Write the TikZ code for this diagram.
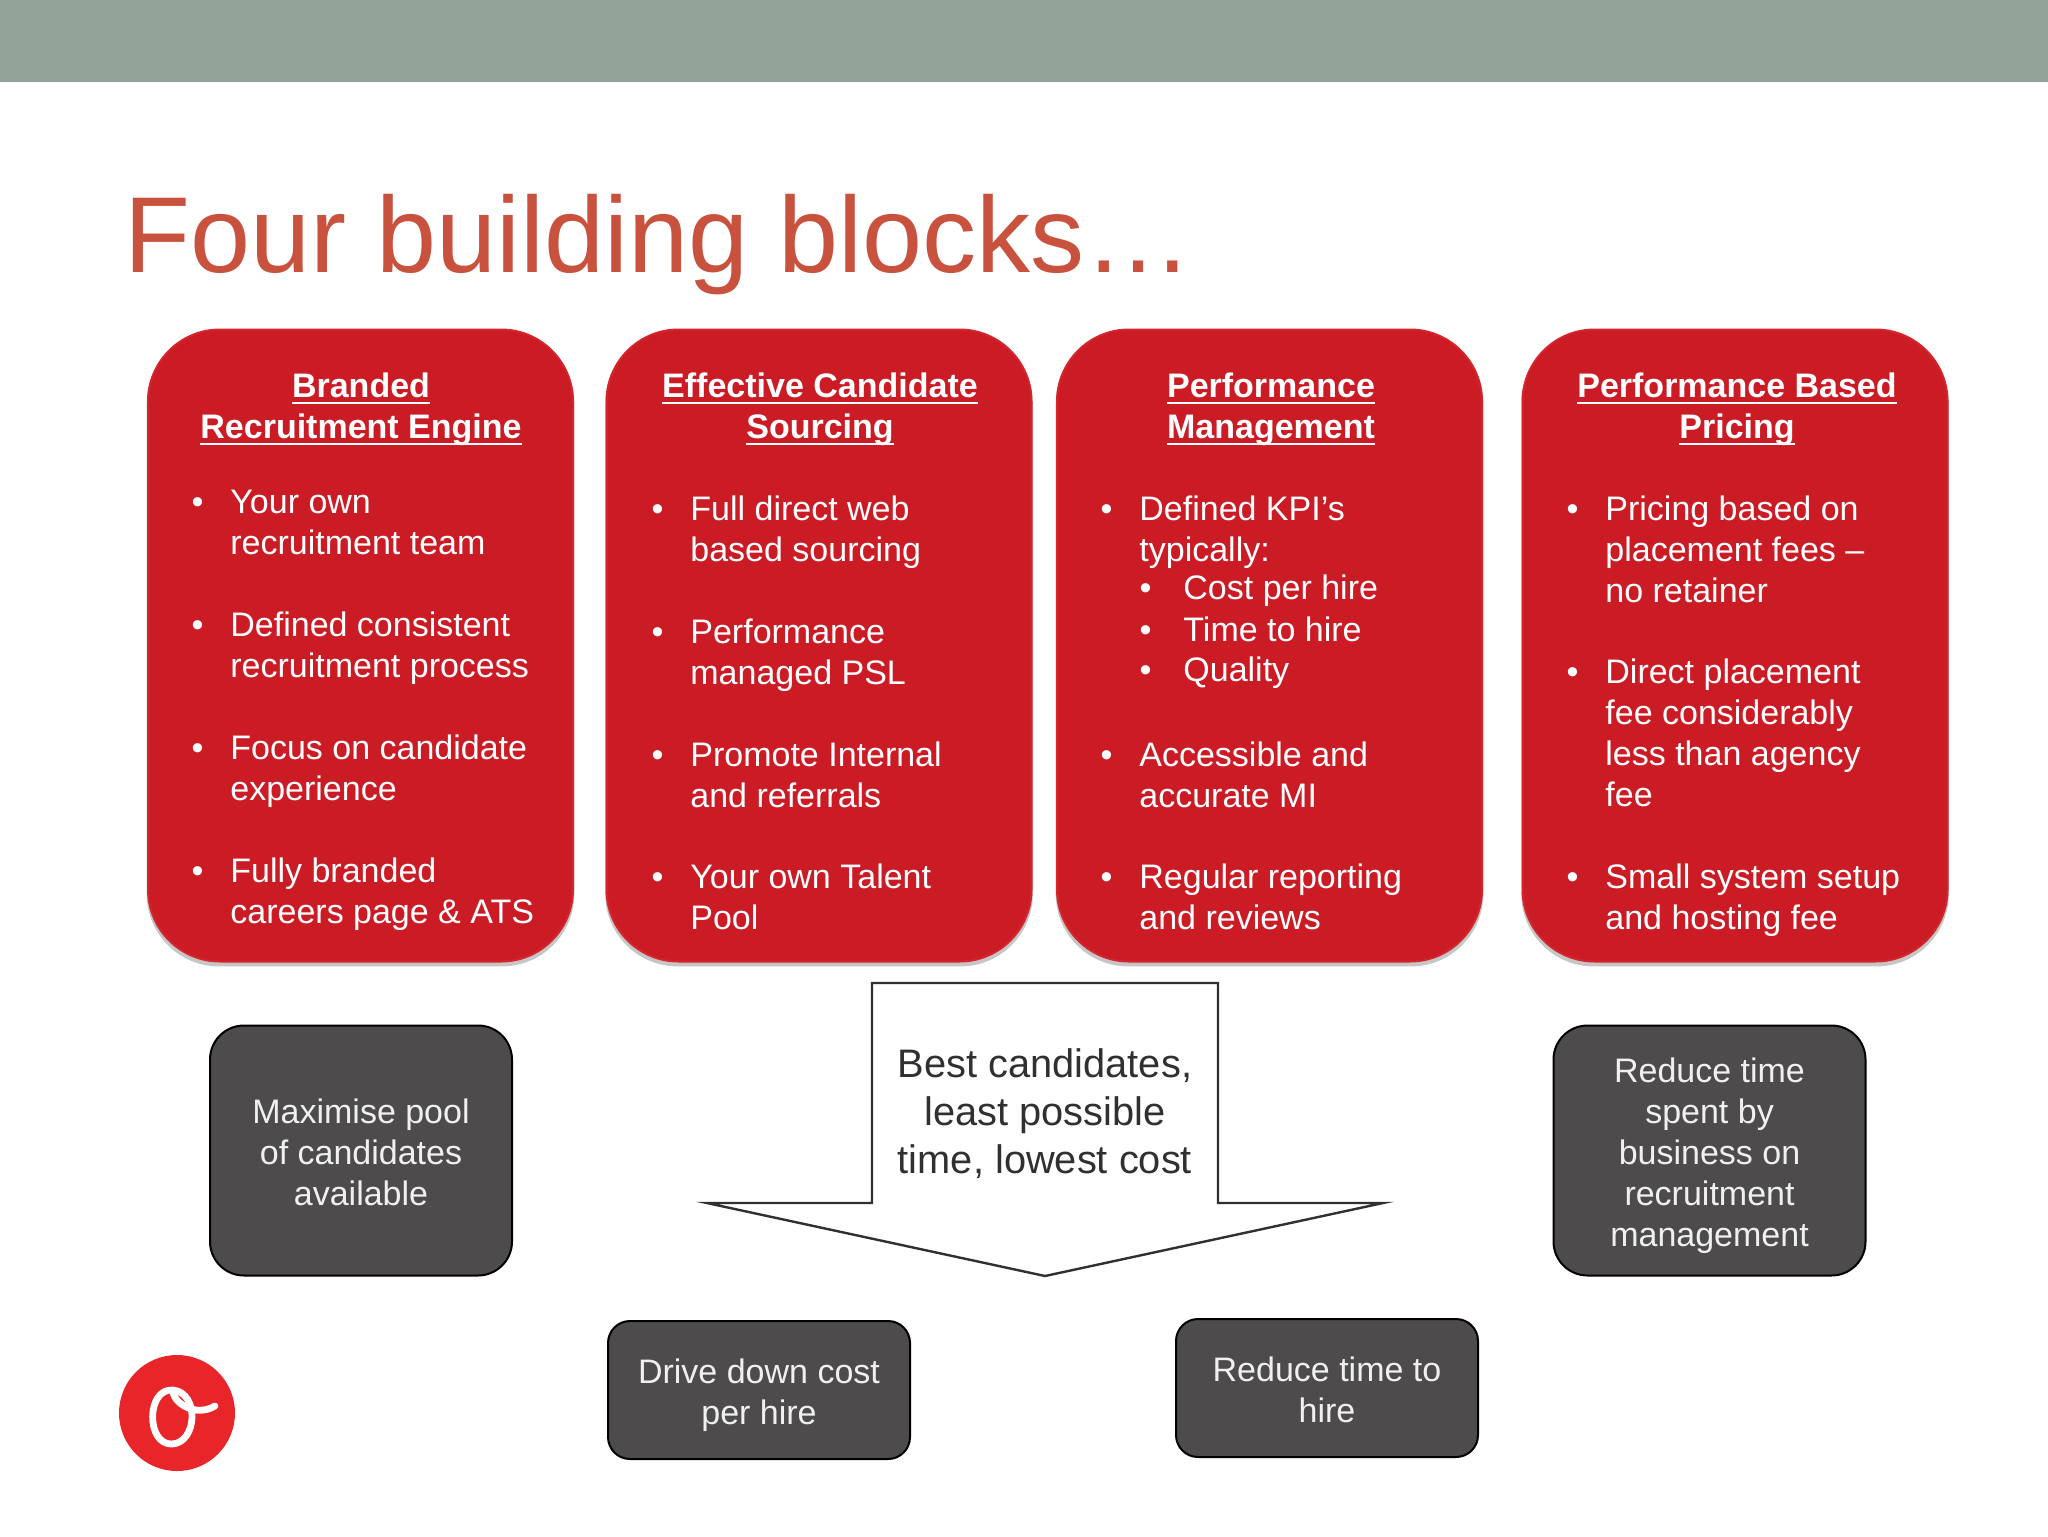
\documentclass[tikz,border=0pt]{standalone}
\usepackage{fontspec}
\setmainfont{Liberation Sans}
\usetikzlibrary{shadows}
\definecolor{bandgrey}{HTML}{92A399}
\definecolor{titlered}{HTML}{C9523F}
\definecolor{blockred}{HTML}{CB1C26}
\definecolor{blockrim}{HTML}{D4242C}
\definecolor{slategrey}{HTML}{4D4B4C}
\definecolor{inkgrey}{HTML}{303030}
\definecolor{logored}{HTML}{E8262A}
\newcommand{\linetop}{\rule{0pt}{18pt}}
\newcommand{\headline}[1]{\setbox0\hbox{#1}\rlap{\rule[-3.2pt]{\wd0}{1.2pt}}\box0}
\newcommand{\blockdot}{\linetop\llap{\textbullet\hspace{13.5pt}}}
\newcommand{\subdot}{\linetop\llap{\textbullet\hspace{16pt}}}
\tikzset{
  struts/.style={execute at end node=\rule[-4pt]{0pt}{4pt}},
  blockbox/.style={draw=blockrim, line width=1pt, fill=blockred, rounded corners=36pt,
    minimum width=212.5pt, minimum height=316pt, inner sep=0pt,
    drop shadow={shadow xshift=0pt, shadow yshift=-1.5pt, shadow scale=1.006, opacity=.45}},
  blockhead/.style={struts, text=white, font=\fontsize{17}{20.5}\selectfont\bfseries, align=center, inner sep=0pt},
  blockitem/.style={struts, text=white, font=\fontsize{17}{20.5}\selectfont, align=left, anchor=west, inner sep=0pt},
  outcome/.style={struts, draw=black, line width=1pt, fill=slategrey, text=white!94!black, rounded corners=#1,
    font=\fontsize{17}{20.5}\selectfont, align=center, minimum width=151pt, inner sep=0pt},
  outcome/.default=17pt
}
\begin{document}
\begin{tikzpicture}[x=0.5pt, y=-0.5pt]
  \useasboundingbox (0,0) rectangle (2048,1536);
  \fill[bandgrey] (0,0) rectangle (2048,82);
  \node[text=titlered, font=\fontsize{54}{60}\selectfont, anchor=base west, inner sep=0pt] (title) at (124,272) {Four building blocks…};

  \node[blockbox] (block1) at (360.5,645.5) {};
  \node[blockbox] (block2) at (819,645.5) {};
  \node[blockbox] (block3) at (1269.5,645.5) {};
  \node[blockbox] (block4) at (1735,645.5) {};

  \node[blockhead] (head1) at (361,404) {\linetop\headline{Branded}\\\headline{Recruitment Engine}};
  \node[blockitem] (item1a) at (230,520) {\blockdot Your own\\recruitment team};
  \node[blockitem] (item1b) at (230,643) {\blockdot Defined consistent\\recruitment process};
  \node[blockitem] (item1c) at (230,766) {\blockdot Focus on candidate\\experience};
  \node[blockitem] (item1d) at (230,889) {\blockdot Fully branded\\careers page \& ATS};

  \node[blockhead] (head2) at (820,404) {\linetop\headline{Effective Candidate}\\\headline{Sourcing}};
  \node[blockitem] (item2a) at (690,527) {\blockdot Full direct web\\based sourcing};
  \node[blockitem] (item2b) at (690,650) {\blockdot Performance\\managed PSL};
  \node[blockitem] (item2c) at (690,772.5) {\blockdot Promote Internal\\and referrals};
  \node[blockitem] (item2d) at (690,895) {\blockdot Your own Talent\\Pool};

  \node[blockhead] (head3) at (1271,404) {\linetop\headline{Performance}\\\headline{Management}};
  \node[blockitem] (item3a) at (1139,527) {\blockdot Defined KPI’s\\typically:};
  \node[blockitem] (sub3a) at (1183,585.5) {\subdot Cost per hire};
  \node[blockitem] (sub3b) at (1183,627) {\subdot Time to hire};
  \node[blockitem] (sub3c) at (1183,667.5) {\subdot Quality};
  \node[blockitem] (item3b) at (1139,772.5) {\blockdot Accessible and\\accurate MI};
  \node[blockitem] (item3c) at (1139,895) {\blockdot Regular reporting\\and reviews};

  \node[blockhead] (head4) at (1737,404) {\linetop\headline{Performance Based}\\\headline{Pricing}};
  \node[blockitem] (item4a) at (1605,547) {\blockdot Pricing based on\\placement fees –\\no retainer};
  \node[blockitem] (item4b) at (1605,731) {\blockdot Direct placement\\fee considerably\\less than agency\\fee};
  \node[blockitem] (item4c) at (1605,895) {\blockdot Small system setup\\and hosting fee};

  \node[outcome, minimum height=125pt] (pool) at (361,1150.5) {\linetop Maximise pool\\of candidates\\available};
  \node[outcome, minimum width=156pt, minimum height=125pt] (spent) at (1709.5,1150.5) {\linetop Reduce time\\spent by\\business on\\recruitment\\management};
  \node[outcome=11pt, minimum height=69pt] (cost) at (759,1390) {\linetop Drive down cost\\per hire};
  \node[outcome=11pt, minimum height=69pt] (hire) at (1327,1388) {\linetop Reduce time to\\hire};

  \draw[inkgrey, line width=1.2pt, fill=white, miter limit=20] (872,983) -- (1218,983) -- (1218,1203) -- (1383,1203)
    -- (1045,1276) -- (707,1203) -- (872,1203) -- cycle;
  \node[struts, text=inkgrey, font=\fontsize{19.9}{24}\selectfont, align=center, inner sep=0pt] (goal) at (1045,1115) {Best candidates,\\least possible\\time, lowest cost};

  \fill[logored] (177,1413) circle (58);
  \draw[white, line width=3.4pt, line cap=round, line join=round] (173,1390) .. controls (146,1388) and (146,1445) .. (172,1444)
    .. controls (197,1443) and (200,1393) .. (173,1390) .. controls (172,1402) and (195,1418) .. (215,1406);
\end{tikzpicture}
\end{document}
